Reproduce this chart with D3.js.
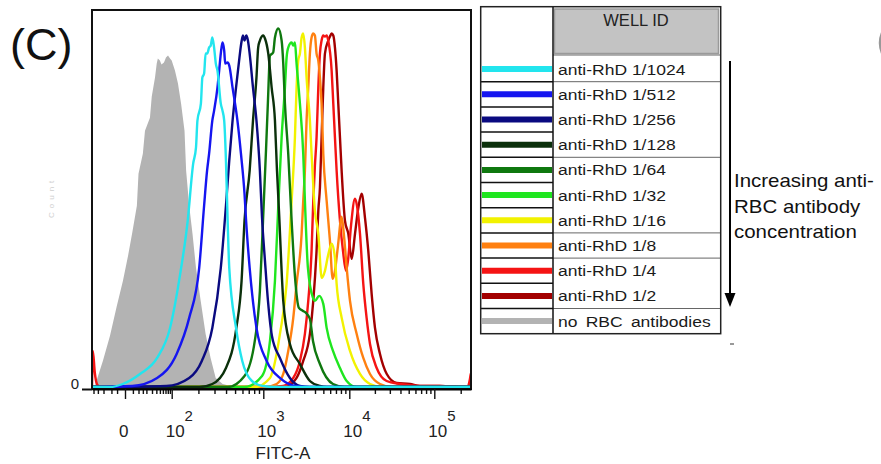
<!DOCTYPE html>
<html>
<head>
<meta charset="utf-8">
<script src="https://cdn.jsdelivr.net/npm/d3@7"></script>
<style>
  body { margin: 0; background: #fff; }
  svg { display: block; font-family: "Liberation Sans", Arial, Helvetica, sans-serif; }
</style>
</head>
<body>
<div id="wrapper"></div>
<script>
// histogram data: [FITC-A intensity, count]
var noRbc = [[-37,0],[-33,6],[-21,26],[-11.6,51],[-5.2,81],[-1.1,106],[1.7,131],[4.5,154],[8.4,181],[10,213],
  [15,233],[17.9,256],[26,269],[29.5,290],[36.7,309],[41,323],[44,328],[50,326],[55,322],[64,324],[72,329],
  [81,331],[91,328],[100,326],[109,316],[118,303],[128,283],[140,256],[146,216],[158,181],[172,153],[188,119],
  [212,86],[240,53],[272,29],[309,9],[368,3],[491,0]];
var rhd1024 = [[-11.6,0],[-1.2,3],[11.6,13],[42,29],[91,59],[123,109],[152,166],[175,223],[188,239],[195,266],
  [213,283],[221,309],[231,313],[240,333],[250,333],[262,339],[273,341],[284,349],[297,339],[310,323],[323,316],
  [351,283],[366,276],[382,266],[399,226],[416,166],[433,119],[512,59],[597,26],[757,6],[995,1],[1368,0]];
var rhd512 = [[4.5,1],[42,9],[114,33],[158,69],[204,119],[231,181],[249,216],[262,233],[284,266],[297,276],
  [323,299],[337,316],[351,333],[366,344],[382,336],[392,323],[416,324],[433,321],[470,299],[530,266],[578,233],
  [631,193],[656,166],[716,119],[846,59],[1095,26],[1564,9],[2337,1],[3490,0]];
var rhd256 = [[74,1],[158,9],[218,26],[284,59],[351,119],[399,181],[433,226],[470,266],[512,299],[557,329],
  [582,343],[607,351],[631,346],[659,351],[686,346],[716,333],[777,299],[846,266],[920,216],[968,170],[1046,126],
  [1134,86],[1262,51],[1564,29],[2044,9],[2672,1],[3500,0]];
var rhd128 = [[204,0],[284,3],[399,19],[516,59],[587,106],[631,166],[716,216],[777,266],[846,309],[882,339],
  [920,346],[1000,351],[1046,348],[1143,333],[1252,299],[1368,266],[1445,216],[1524,176],[1710,86],[2044,43],
  [2672,23],[3490,6],[4563,1],[5500,0]];
var rhd64 = [[416,0],[631,11],[812,46],[920,96],[993,166],[1075,236],[1134,286],[1197,331],[1304,334],[1368,349],
  [1495,358],[1636,346],[1710,323],[1788,283],[1954,233],[2140,166],[2337,111],[2600,79],[2900,76],[3140,74],
  [3490,68],[3790,46],[4563,23],[6470,3],[8913,0]];
var rhd32 = [[631,0],[970,11],[1197,46],[1368,106],[1500,183],[1636,249],[1788,299],[1870,329],[1954,339],
  [2140,344],[2236,341],[2337,344],[2443,323],[2672,283],[2920,233],[3054,186],[3310,119],[3790,89],[3990,86],
  [4470,91],[4990,83],[5460,59],[6470,36],[7797,19],[9330,6],[12200,0]];
var rhd16 = [[812,0],[1197,9],[1318,19],[1564,53],[1870,103],[2140,186],[2337,249],[2443,299],[2553,326],
  [2672,333],[2797,349],[2920,353],[3054,339],[3193,309],[3490,266],[3650,233],[3990,176],[4370,153],[4780,109],
  [5217,116],[5660,131],[6250,143],[6818,129],[7130,103],[8160,69],[10190,36],[13360,13],[17520,3],[24500,0]];
var rhd8 = [[1046,0],[1431,3],[1710,13],[1954,36],[2236,69],[2443,103],[2797,153],[2920,186],[3054,216],
  [3193,266],[3340,299],[3490,333],[3650,349],[3820,353],[3990,351],[4170,333],[4370,326],[4563,309],[4770,283],
  [4990,233],[5460,186],[5965,146],[6410,108],[6818,116],[7390,141],[8150,170],[8680,151],[9330,119],[10190,86],
  [12220,53],[14610,29],[17520,13],[22970,3],[31700,0]];
var rhd4 = [[-41.7,36],[-36.7,14],[-32,3],[-26,0],[1197,0],[1710,1],[2236,9],[2672,26],[3054,53],[3340,86],
  [3650,136],[3820,186],[3990,221],[4170,249],[4370,299],[4563,333],[4770,346],[4990,351],[5217,350],[5460,351],
  [5700,346],[6240,316],[6520,283],[6818,249],[7130,216],[7797,166],[8450,136],[9150,116],[9650,126],[10470,161],
  [11670,188],[12320,181],[13360,153],[14610,103],[15990,69],[17520,43],[21000,19],[27500,6],[39500,3],
  [67900,1],[113000,1],[240000,0],[255000,8],[262000,14]];
var rhd2 = [[1368,0],[1870,1],[2443,9],[2920,26],[3490,53],[3820,86],[4170,136],[4370,176],[4563,199],[4770,249],
  [4990,299],[5217,333],[5700,346],[5965,350],[6240,353],[6520,351],[6818,339],[7130,316],[7450,283],[7797,249],
  [8150,216],[8913,166],[9740,153],[10670,128],[11670,153],[12770,179],[13980,193],[15300,169],[16730,136],
  [18320,93],[20060,59],[22970,33],[27600,13],[36100,4],[51800,3],[67900,1],[116700,1],[245000,0],[258000,6]];

var seriesData = [rhd1024, rhd512, rhd256, rhd128, rhd64, rhd32, rhd16, rhd8, rhd4, rhd2];
var wellIds = ["anti-RhD 1/1024", "anti-RhD 1/512", "anti-RhD 1/256", "anti-RhD 1/128", "anti-RhD 1/64",
  "anti-RhD 1/32", "anti-RhD 1/16", "anti-RhD 1/8", "anti-RhD 1/4", "anti-RhD 1/2", "no RBC antibodies"];
var wellColors = ["#22e5ee", "#1515f0", "#0a0a80", "#0b300b", "#0f780f", "#1fe61f", "#f2f200", "#ff8010",
  "#f51414", "#a30000", "#b3b3b3"];
var groupEnds = [0, 3, 6, 7, 9];   // rows followed by a separator in the WELL ID column

var majorTicks = [0, 100, 1000, 10000, 100000];
var tickBase = ["0", "10", "10", "10", "10"];
var tickSup = ["", "2", "3", "4", "5"];

// biexponential-like display: polylinear over a log-ish transform
var xMin = -44, xMax = 262144;
function tfm(v) { return Math.sign(v) * Math.log10(1 + Math.abs(v) / 10); }
var xLin = d3.scaleLinear()
  .domain([xMin, 0, 100, 1000, 1e4, 1e5, xMax].map(tfm))
  .range([92, 125, 171.7, 263.3, 349.3, 434.3, 471]);
function x(v) { return xLin(tfm(v)); }
x.copy = function() { return x; };
x.range = function() { return [92, 471]; };

var y = d3.scaleLinear().domain([0, 376.5]).range([387, 10]);

var minorTicks = [];
[-1, 1].forEach(function(s) {
  for (var k = 1; k < 10; k++) { var v = s * k * 10; if (v > xMin) minorTicks.push(v); }
});
[-5, 5, 15].forEach(function(v) { minorTicks.push(v); });
for (var d = 2; d <= 5; d++) {
  for (var k = 2; k < 10; k++) { var v = k * Math.pow(10, d); if (v < xMax) minorTicks.push(v); }
}

var svg = d3.select("#wrapper").append("svg")
  .attr("width", 881).attr("height", 464);

svg.append("defs").append("clipPath").attr("id", "plotclip")
  .append("rect").attr("x", 93).attr("y", 11).attr("width", 377).attr("height", 377);

function padded(s) {
  var out = s.slice();
  if (out[0][0] > xMin) out.unshift([xMin, 0]);
  if (out[out.length - 1][0] < xMax) out.push([xMax, 0]);
  return out;
}

var plot = svg.append("g").attr("clip-path", "url(#plotclip)");

// unstained control, filled
plot.append("path")
  .datum(padded(noRbc))
  .attr("fill", wellColors[10])
  .attr("d", d3.area().x(function(d) { return x(d[0]); }).y0(y(0)).y1(function(d) { return y(d[1]); }));

var line = d3.line()
  .x(function(d) { return x(d[0]); })
  .y(function(d) { return y(d[1]); })
  .curve(d3.curveMonotoneX);

// highest concentration first so cyan ends up on top
d3.range(seriesData.length - 1, -1, -1).forEach(function(i) {
  plot.append("path")
    .datum(padded(seriesData[i]))
    .attr("fill", "none")
    .attr("stroke", wellColors[i])
    .attr("stroke-width", 2.4)
    .attr("stroke-linejoin", "round")
    .attr("d", line);
});

// frame
svg.append("rect")
  .attr("x", 92).attr("y", 10).attr("width", 379).attr("height", 379)
  .attr("fill", "none").attr("stroke", "#111").attr("stroke-width", 2);

// x axis
var minorAxis = svg.append("g").attr("transform", "translate(0,389)")
  .call(d3.axisBottom(x).tickValues(minorTicks).tickSize(5).tickSizeOuter(0).tickFormat(""));
minorAxis.select(".domain").remove();
var majorAxis = svg.append("g").attr("transform", "translate(0,389)")
  .call(d3.axisBottom(x).tickValues(majorTicks).tickSize(10).tickSizeOuter(0).tickFormat(""));
majorAxis.select(".domain").attr("stroke-width", 2.2);
svg.selectAll(".tick line").attr("stroke", "#111").attr("stroke-width", 1.4);

var lbl = svg.append("g").attr("font-size", 17).attr("fill", "#222");
majorTicks.forEach(function(v, i) {
  var t = lbl.append("text").attr("x", x(v) - 6).attr("y", 437).text(tickBase[i]);
  if (tickSup[i]) t.append("tspan").attr("font-size", 15).attr("dy", -16).text(tickSup[i]);
});
svg.append("text").attr("x", 283).attr("y", 459).attr("text-anchor", "middle")
  .attr("font-size", 17).attr("fill", "#222").text("FITC-A");

// y axis: only the zero tick
var yAxis = svg.append("g").attr("transform", "translate(92,2)")
  .call(d3.axisLeft(y).tickValues([0]).tickSize(10).tickSizeOuter(0));
yAxis.select(".domain").remove();
yAxis.selectAll(".tick line").attr("stroke", "#111").attr("stroke-width", 2);
yAxis.selectAll(".tick text").attr("font-size", 15).attr("fill", "#222").attr("dy", "-0.05em")
  .attr("font-family", "inherit");

svg.append("text").attr("transform", "translate(54,218) rotate(-90)")
  .attr("font-size", 8).attr("letter-spacing", 4).attr("fill", "#cfcfcf").text("Count");

// panel letter, and the edge of the next panel's letter
svg.append("text").attr("x", 10).attr("y", 60).attr("font-size", 45).attr("fill", "#111").text("(C)");
svg.append("path").attr("d", "M882,33Q878,43 882,53").attr("fill", "none")
  .attr("stroke", "#999").attr("stroke-width", 2.5);

// legend table
var rowY = d3.scaleBand().domain(wellIds).range([56.5, 333.7]);
var leg = svg.append("g");

leg.append("rect").attr("x", 554.5).attr("y", 9).attr("width", 164).attr("height", 44.5)
  .attr("fill", "#c3c3c3").attr("stroke", "#9a9a9a").attr("stroke-width", 1.5);
leg.append("text").attr("x", 636).attr("y", 26).attr("text-anchor", "middle")
  .attr("font-size", 16.5).attr("fill", "#222").text("WELL ID");

leg.append("line").attr("x1", 553).attr("x2", 721).attr("y1", 55).attr("y2", 55)
  .attr("stroke", "#666").attr("stroke-width", 1);

wellIds.forEach(function(id, i) {
  var top = rowY(id), bw = rowY.bandwidth();
  if (i > 0) {
    leg.append("line").attr("x1", 481).attr("x2", 553).attr("y1", top).attr("y2", top)
      .attr("stroke", "#111").attr("stroke-width", 1.5);
  }
  leg.append("line").attr("x1", 482).attr("x2", 552).attr("y1", top + bw / 2).attr("y2", top + bw / 2)
    .attr("stroke", wellColors[i]).attr("stroke-width", 6);
  leg.append("text")
    .attr("transform", "translate(558," + (top + bw / 2 + 5.5) + ") scale(1.13,1)")
    .attr("font-size", 15.5).attr("fill", "#1a1a1a")
    .attr("word-spacing", i === 10 ? 3 : 0)
    .text(id);
  if (groupEnds.indexOf(i) >= 0) {
    leg.append("line").attr("x1", 553).attr("x2", 721).attr("y1", top + bw).attr("y2", top + bw)
      .attr("stroke", "#666").attr("stroke-width", 1);
  }
});

leg.append("line").attr("x1", 553).attr("x2", 553).attr("y1", 6.5).attr("y2", 333.7)
  .attr("stroke", "#111").attr("stroke-width", 1.5);
leg.append("rect").attr("x", 480.7).attr("y", 6.7).attr("width", 240).attr("height", 327)
  .attr("fill", "none").attr("stroke", "#222").attr("stroke-width", 1.5);

// arrow and note
svg.append("line").attr("x1", 730).attr("x2", 730).attr("y1", 61).attr("y2", 295)
  .attr("stroke", "#000").attr("stroke-width", 2);
svg.append("path").attr("d", "M724.5,293L735.5,293L730,307Z").attr("fill", "#000");
var note = ["Increasing anti-", "RBC antibody", "concentration"];
note.forEach(function(s, i) {
  svg.append("text")
    .attr("transform", "translate(734," + (187 + i * 25.5) + ") scale(1.17,1)")
    .attr("font-size", 17.5).attr("fill", "#111").text(s);
});
svg.append("line").attr("x1", 730).attr("x2", 734).attr("y1", 344).attr("y2", 344)
  .attr("stroke", "#555").attr("stroke-width", 1.2);
</script>
</body>
</html>
